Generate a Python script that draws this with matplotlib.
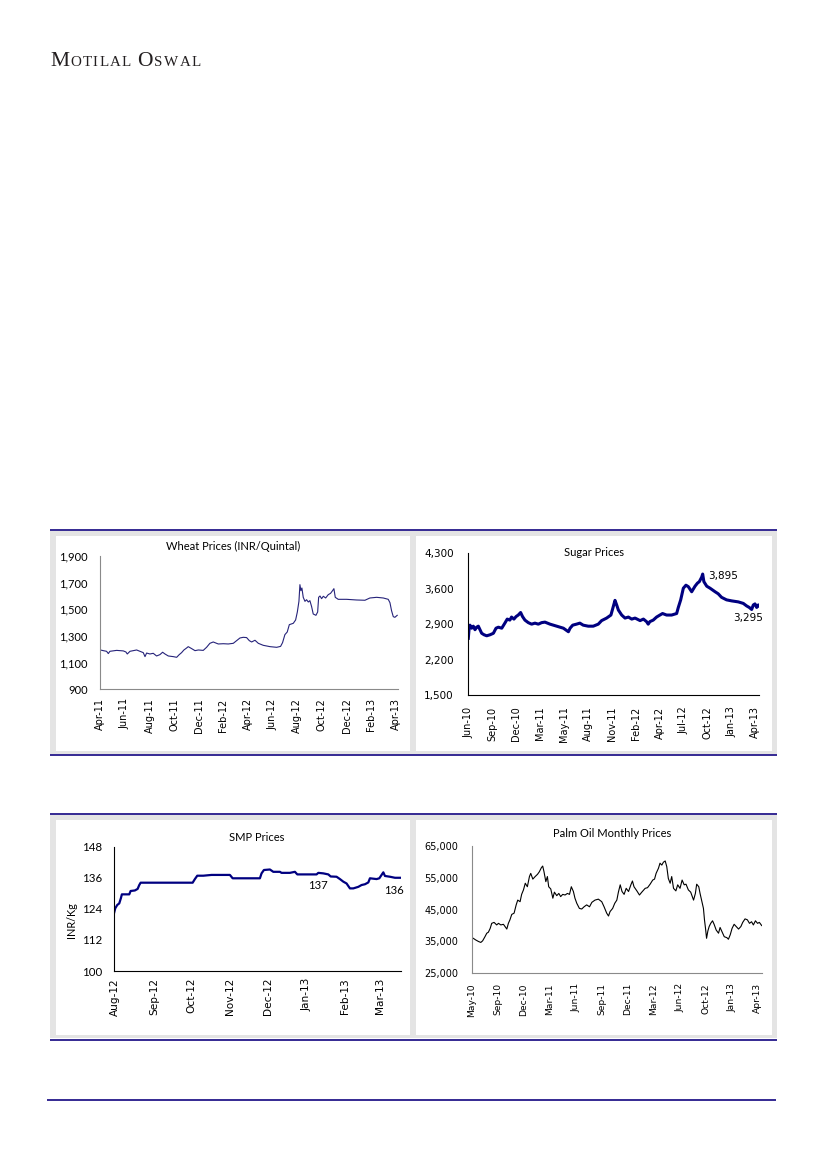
import numpy as np
import matplotlib
matplotlib.use("Agg")
import matplotlib.pyplot as plt
from matplotlib.patches import Rectangle
from matplotlib.ticker import FuncFormatter

# ---------------- data ----------------
wheat_labels = ["Apr-11", "Jun-11", "Aug-11", "Oct-11", "Dec-11", "Feb-12", "Apr-12",
                "Jun-12", "Aug-12", "Oct-12", "Dec-12", "Feb-13", "Apr-13"]
wheat_month = [0.00, 0.24, 0.51, 0.65, 0.78, 1.33, 1.87, 2.08, 2.19, 2.41,
               2.95, 3.22, 3.49, 3.63, 3.76, 4.03, 4.30, 4.57, 4.84, 5.06,
               5.25, 5.52, 5.93, 6.20, 6.41, 6.60, 6.79, 7.01, 7.14, 7.42,
               7.69, 7.96, 8.36, 8.63, 8.90, 9.17, 9.58, 9.99, 10.39, 10.80,
               11.07, 11.34, 11.61, 11.88, 12.10, 12.29, 12.56, 12.83, 13.23, 13.78,
               14.32, 14.64, 14.80, 14.99, 15.18, 15.35, 15.67, 15.86, 16.00, 16.13,
               16.21, 16.29, 16.37, 16.48, 16.62, 16.75, 16.89, 17.02, 17.16, 17.29,
               17.51, 17.65, 17.73, 17.84, 17.97, 18.11, 18.30, 18.51, 18.70, 18.86,
               18.97, 19.08, 19.32, 20.00, 20.81, 21.49, 21.89, 22.44, 22.98, 23.38,
               23.52, 23.65, 23.79, 23.92, 24.11]
wheat_price = [1195, 1190, 1185, 1168, 1185, 1192, 1188, 1180, 1165, 1185,
               1195, 1185, 1175, 1145, 1172, 1165, 1170, 1150, 1160, 1178,
               1165, 1150, 1145, 1140, 1160, 1175, 1195, 1210, 1220, 1205,
               1190, 1195, 1192, 1215, 1245, 1255, 1240, 1242, 1240, 1245,
               1265, 1285, 1290, 1288, 1265, 1255, 1268, 1245, 1230, 1220,
               1215, 1222, 1250, 1310, 1330, 1385, 1395, 1420, 1480, 1560,
               1685, 1640, 1660, 1590, 1560, 1572, 1555, 1565, 1520, 1465,
               1455, 1480, 1590, 1600, 1580, 1598, 1585, 1610, 1620, 1640,
               1655, 1590, 1575, 1575, 1570, 1568, 1585, 1590, 1585, 1575,
               1550, 1490, 1445, 1440, 1455]
wheat_yticks = [900, 1100, 1300, 1500, 1700, 1900]

sugar_labels = ["Jun-10", "Sep-10", "Dec-10", "Mar-11", "May-11", "Aug-11", "Nov-11",
                "Feb-12", "Apr-12", "Jul-12", "Oct-12", "Jan-13", "Apr-13"]
sugar_pos = [0.00, 0.04, 0.07, 0.14, 0.21, 0.28, 0.35, 0.42, 0.49, 0.56,
             0.66, 0.77, 0.91, 1.05, 1.16, 1.26, 1.40, 1.53, 1.63, 1.74,
             1.81, 1.91, 2.00, 2.09, 2.19, 2.27, 2.37, 2.51, 2.65, 2.79,
             2.93, 3.07, 3.21, 3.42, 3.70, 3.98, 4.19, 4.26, 4.37, 4.53,
             4.67, 4.81, 5.02, 5.23, 5.44, 5.58, 5.79, 5.97, 6.07, 6.14,
             6.21, 6.28, 6.42, 6.56, 6.70, 6.84, 6.98, 7.19, 7.33, 7.46,
             7.53, 7.60, 7.74, 7.88, 8.02, 8.13, 8.30, 8.51, 8.72, 8.79,
             8.89, 9.00, 9.11, 9.21, 9.35, 9.49, 9.59, 9.67, 9.77, 9.81,
             9.86, 9.98, 10.12, 10.33, 10.46, 10.60, 10.81, 11.02, 11.30, 11.51,
             11.65, 11.76, 11.86, 11.93, 12.00, 12.07, 12.14, 12.18]
sugar_price = [2620, 2850, 2880, 2820, 2860, 2790, 2840, 2860, 2790, 2720,
               2690, 2670, 2690, 2720, 2820, 2840, 2820, 2920, 3000, 2980,
               3040, 3000, 3050, 3080, 3130, 3050, 2980, 2930, 2900, 2920,
               2900, 2930, 2940, 2900, 2860, 2820, 2750, 2820, 2880, 2900,
               2920, 2880, 2860, 2860, 2900, 2970, 3020, 3080, 3250, 3370,
               3280, 3180, 3080, 3020, 3040, 3000, 3020, 2970, 3000, 2950,
               2900, 2950, 2980, 3040, 3080, 3110, 3080, 3080, 3110, 3230,
               3380, 3610, 3670, 3640, 3540, 3650, 3710, 3740, 3830, 3890,
               3740, 3650, 3610, 3540, 3500, 3430, 3380, 3360, 3340, 3310,
               3260, 3230, 3190, 3280, 3300, 3230, 3280, 3260]
sugar_yticks = [1500, 2200, 2900, 3600, 4300]
sugar_peak = 3895
sugar_last = 3295

smp_labels = ["Aug-12", "Sep-12", "Oct-12", "Nov-12", "Dec-12", "Jan-13", "Feb-13", "Mar-13"]
smp_label_dates = ["2012-08-01", "2012-09-01", "2012-10-01", "2012-11-01",
                   "2012-12-01", "2013-01-01", "2013-02-01", "2013-03-01"]
smp_day = [-1, 0, 1.6, 3.2, 4.5, 5.3, 7.7, 11.2, 12.3, 15.7,
           17.9, 19.2, 20.3, 33, 46.4, 61.9, 63.7, 65.6, 70.4, 77,
           91.7, 93.9, 105, 115.7, 117, 118.9, 123.7, 126.4, 131.7, 133,
           139.7, 143.7, 145.6, 153, 161, 162.4, 166.4, 170.4, 172.3, 177,
           179.7, 182.4, 185, 187.7, 190.4, 194.4, 197, 199.7, 202.4, 203.7,
           209, 211.2, 213, 214.4, 215.7, 219.7, 223.7, 228]
smp_price = [122.3, 124.2, 125.5, 126.1, 128.1, 129.6, 129.6, 129.6, 130.9, 131.1,
             131.7, 133.2, 134.1, 134.1, 134.1, 134.1, 135.5, 136.8, 136.8, 137.1,
             137.1, 135.8, 135.8, 135.8, 137.7, 139.0, 139.2, 138.3, 138.3, 137.9,
             137.9, 138.3, 137.3, 137.3, 137.3, 137.9, 137.7, 137.3, 136.5, 136.4,
             135.5, 134.5, 133.8, 131.9, 131.9, 132.5, 133.2, 133.5, 134.2, 135.8,
             135.5, 135.8, 137.1, 138.1, 136.7, 136.4, 136.0, 136.0]
smp_yticks = [100, 112, 124, 136, 148]
smp_note_mid = "137"
smp_note_end = "136"

palm_labels = ["May-10", "Sep-10", "Dec-10", "Mar-11", "Jun-11", "Sep-11", "Dec-11",
               "Mar-12", "Jun-12", "Oct-12", "Jan-13", "Apr-13"]
palm_pos = [0.00, 0.06, 0.15, 0.26, 0.35, 0.42, 0.51, 0.58, 0.64, 0.71,
            0.77, 0.86, 0.96, 1.03, 1.12, 1.22, 1.35, 1.41, 1.47, 1.54,
            1.63, 1.71, 1.77, 1.86, 1.92, 1.99, 2.06, 2.14, 2.22, 2.27,
            2.35, 2.44, 2.53, 2.60, 2.68, 2.73, 2.78, 2.85, 2.91, 2.96,
            3.04, 3.12, 3.18, 3.27, 3.35, 3.42, 3.50, 3.59, 3.68, 3.76,
            3.83, 3.91, 3.97, 4.04, 4.14, 4.23, 4.32, 4.42, 4.53, 4.62,
            4.74, 4.87, 5.00, 5.09, 5.19, 5.26, 5.32, 5.42, 5.50, 5.58,
            5.64, 5.71, 5.78, 5.86, 5.94, 6.03, 6.12, 6.18, 6.24, 6.35,
            6.45, 6.54, 6.67, 6.76, 6.86, 6.96, 7.03, 7.09, 7.18, 7.24,
            7.31, 7.37, 7.44, 7.50, 7.56, 7.63, 7.69, 7.76, 7.85, 7.92,
            8.01, 8.09, 8.17, 8.24, 8.33, 8.42, 8.53, 8.60, 8.65, 8.73,
            8.78, 8.85, 8.91, 8.95, 8.99, 9.03, 9.08, 9.13, 9.19, 9.26,
            9.32, 9.40, 9.49, 9.55, 9.62, 9.71, 9.81, 9.87, 9.94, 10.01,
            10.09, 10.17, 10.26, 10.35, 10.42, 10.51, 10.60, 10.68, 10.76, 10.83,
            10.91, 10.99, 11.06, 11.15]
palm_price = [36200, 36000, 35500, 35000, 34700, 35200, 36500, 37600, 37900, 39100,
              40700, 41000, 40200, 40700, 40200, 40400, 38900, 40700, 41800, 43500,
              43900, 46500, 48000, 47500, 49800, 51200, 53300, 52200, 55400, 56400,
              54600, 55400, 56100, 56900, 58200, 58700, 56900, 53800, 55400, 52200,
              51500, 48600, 50500, 49400, 50100, 49100, 49800, 49600, 50100, 49800,
              52200, 50700, 48600, 47000, 45400, 45200, 45900, 46500, 45900, 47300,
              48000, 48300, 47500, 45900, 43900, 43000, 44400, 45400, 47000, 48000,
              50500, 52800, 50700, 49800, 51700, 50700, 52800, 54000, 52200, 50900,
              49600, 50500, 51700, 51900, 53000, 54300, 54600, 56400, 58000, 59600,
              59000, 59900, 60300, 58500, 54800, 53300, 55400, 51700, 50900, 52800,
              51700, 54300, 52800, 53000, 51200, 50500, 48000, 50100, 53000, 52200,
              50100, 47500, 45400, 41800, 39100, 36000, 38300, 39700, 40700, 41500,
              40400, 38600, 37600, 39400, 38100, 36500, 36200, 35700, 37100, 39100,
              40400, 39700, 38900, 39700, 41000, 42100, 41800, 40700, 41200, 40200,
              41500, 40700, 41000, 40000]
palm_yticks = [25000, 35000, 45000, 55000, 65000]

# ---------------- page ----------------
W, H = 826, 1169
fig = plt.figure(figsize=(W / 100, H / 100), dpi=100)
fig.patch.set_facecolor("white")

page = fig.add_axes([0, 0, 1, 1], zorder=0)
page.set_xlim(0, W)
page.set_ylim(H, 0)
page.axis("off")

NAVY = "#120480"
GRAY = "#E4E4E4"

for top, bottom in [(531, 754), (815, 1038)]:
    page.add_patch(Rectangle((50, top), 727, bottom - top, facecolor=GRAY, edgecolor="none"))
    page.add_patch(Rectangle((56, top + 4.5), 354, bottom - top - 8, facecolor="white", edgecolor="none"))
    page.add_patch(Rectangle((416, top + 4.5), 356, bottom - top - 8, facecolor="white", edgecolor="none"))
for y in [529.5, 755, 814, 1039.5]:
    page.plot([50, 777], [y, y], color=NAVY, lw=1.2, solid_capstyle="butt")
page.plot([47, 776], [1100, 1100], color=NAVY, lw=1.2, solid_capstyle="butt")

# header in small caps
renderer = fig.canvas.get_renderer()
header = [("M", 15.5), ("O", 10.8), ("T", 10.8), ("I", 10.8), ("L", 10.8), ("A", 10.8), ("L", 10.8),
          (" ", 11), ("O", 15.5), ("S", 10.8), ("W", 10.8), ("A", 10.8), ("L", 10.8)]
xh = 50
for ch, fs in header:
    t = page.text(xh, 65.5, ch, fontsize=fs, family="Liberation Serif", color="#231F20",
                  va="baseline", ha="left")
    bb = t.get_window_extent(renderer)
    xh += bb.width + 1.3

comma = FuncFormatter(lambda v, p: f"{v:,.0f}")


def style_axes(ax, spine_color, xfont, xsize, xpad, yfont, ysize, ypad):
    ax.set_facecolor("none")
    for s in ["top", "right"]:
        ax.spines[s].set_visible(False)
    for s in ["left", "bottom"]:
        ax.spines[s].set_color(spine_color)
        ax.spines[s].set_linewidth(0.8)
    ax.tick_params(axis="both", length=0)
    ax.tick_params(axis="x", pad=xpad, labelrotation=90)
    ax.tick_params(axis="y", pad=ypad)
    for lbl in ax.get_xticklabels():
        lbl.set_fontfamily(xfont)
        lbl.set_fontsize(xsize)
    for lbl in ax.get_yticklabels():
        lbl.set_fontfamily(yfont)
        lbl.set_fontsize(ysize)


def fx(px):
    return px / W


def fy(py):
    return 1 - py / H


TITLE_FS = 8.0

# ---------------- Wheat ----------------
ax1 = fig.add_axes([fx(100.3), fy(689.3), fx(397.7 - 100.3), (689.3 - 556) / H], zorder=2)
ax1.plot(wheat_month, wheat_price, color="#26237A", lw=0.8)
ax1.set_xlim(0, 24.15)
ax1.set_ylim(900, 1900)
ax1.set_yticks(wheat_yticks)
ax1.yaxis.set_major_formatter(comma)
ax1.set_xticks(np.arange(len(wheat_labels)) * 2)
ax1.set_xticklabels(wheat_labels)
style_axes(ax1, "#8A8A8A", "DejaVu Sans", 7, 6.5, "Lato", 8, 9)
page.text(233, 546, "Wheat Prices (INR/Quintal)", family="Lato", fontsize=TITLE_FS,
          ha="center", va="center")

# ---------------- Sugar ----------------
ax2 = fig.add_axes([fx(468.3), fy(695), fx(759.3 - 468.3), (695 - 553.3) / H], zorder=2)
ax2.plot(sugar_pos, sugar_price, color="#000080", lw=2.2)
ax2.set_xlim(0, 12.18)
ax2.set_ylim(1500, 4300)
ax2.set_yticks(sugar_yticks)
ax2.yaxis.set_major_formatter(comma)
ax2.set_xticks(np.arange(len(sugar_labels)))
ax2.set_xticklabels(sugar_labels)
style_axes(ax2, "#000000", "DejaVu Sans", 7, 8.2, "DejaVu Sans", 7.5, 10.5)
ax2.text(10.65, 3858, f"{sugar_peak:,}", family="DejaVu Sans", fontsize=7.5,
         ha="center", va="center")
ax2.text(11.70, 3012, f"{sugar_last:,}", family="DejaVu Sans", fontsize=7.5,
         ha="center", va="center")
page.text(593.5, 552.4, "Sugar Prices", family="Lato", fontsize=TITLE_FS, ha="center", va="center")

# ---------------- SMP ----------------
base = np.datetime64("2012-08-01")
smp_ticks = (np.array(smp_label_dates, dtype="datetime64[D]") - base).astype(int)
ax3 = fig.add_axes([fx(114), fy(971), fx(400.7 - 114), (971 - 846.7) / H], zorder=2)
ax3.plot(smp_day, smp_price, color="#000080", lw=1.6)
ax3.set_xlim(-1, 228.3)
ax3.set_ylim(100, 148)
ax3.set_yticks(smp_yticks)
ax3.set_xticks(smp_ticks)
ax3.set_xticklabels(smp_labels)
style_axes(ax3, "#000000", "DejaVu Sans", 7.6, 5, "Lato", 8.3, 8.5)
ax3.text(162, 133.2, smp_note_mid, family="Lato", fontsize=8.2, ha="center", va="center")
ax3.text(222.8, 131.2, smp_note_end, family="Lato", fontsize=8.2, ha="center", va="center")
page.text(72, 920, "INR/Kg", family="Lato", fontsize=7.8, rotation=90,
          ha="center", va="center")
page.text(256.3, 837.3, "SMP Prices", family="Lato", fontsize=TITLE_FS, ha="center", va="center")

# ---------------- Palm Oil ----------------
ax4 = fig.add_axes([fx(471.7), fy(973.3), fx(761.7 - 471.7), (973.3 - 846) / H], zorder=2)
ax4.plot(palm_pos, palm_price, color="#000000", lw=0.8)
ax4.set_xlim(0, 11.15)
ax4.set_ylim(25000, 65000)
ax4.set_yticks(palm_yticks)
ax4.yaxis.set_major_formatter(comma)
ax4.set_xticks(np.arange(len(palm_labels)))
ax4.set_xticklabels(palm_labels)
style_axes(ax4, "#8A8A8A", "DejaVu Sans", 6.6, 7, "DejaVu Sans", 7, 9.5)
page.text(612, 833.3, "Palm Oil Monthly Prices", family="Lato", fontsize=TITLE_FS,
          ha="center", va="center")

fig.savefig("out.png", dpi=100, facecolor="white")
